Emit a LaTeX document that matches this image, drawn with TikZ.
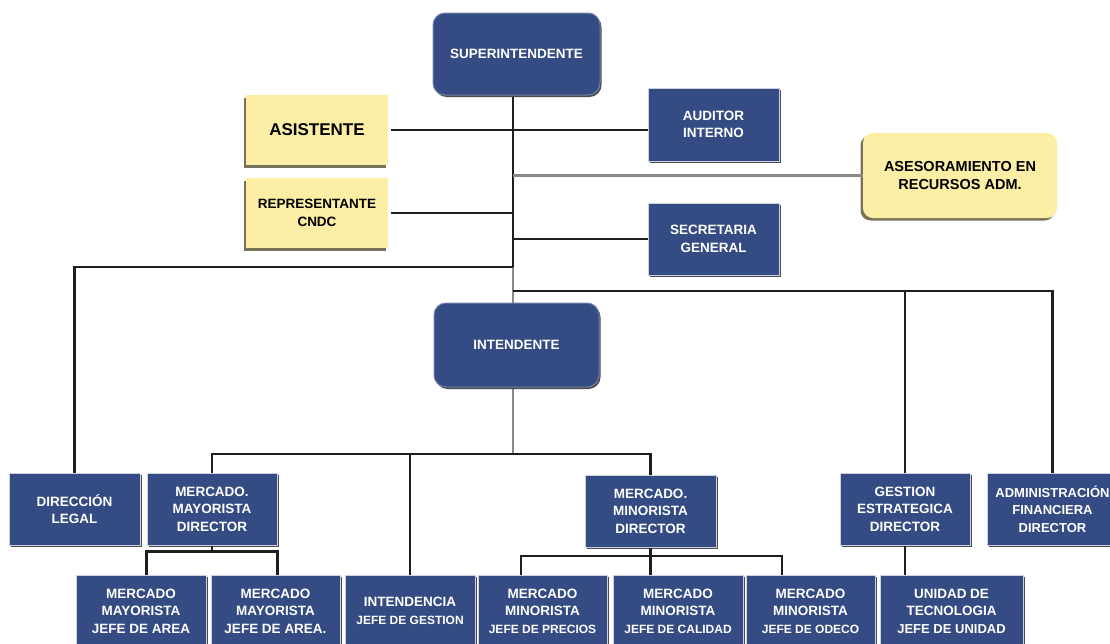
\documentclass[tikz,border=0pt]{standalone}
\usepackage{fontspec}
\setmainfont{Liberation Sans}
\usetikzlibrary{shadows}
\definecolor{boxblue}{HTML}{344B83}
\definecolor{boxedge}{HTML}{C9D1E2}
\definecolor{yel}{HTML}{FCEFA5}
\definecolor{yeledge}{HTML}{77725A}
\definecolor{linek}{HTML}{1E1E1E}
\definecolor{lineg}{HTML}{8A8A8A}
\newcommand\fz[1]{\fontsize{#1}{17.5}\selectfont}
\tikzset{
  sz/.style 2 args={minimum width=#1pt, minimum height=#2pt},
  bbox/.style={fill=boxblue, draw=boxedge, line width=1pt, text=white,
    font=\bfseries\fz{13.5}, align=center, inner sep=0pt,
    drop shadow={shadow xshift=1.5pt, shadow yshift=-2pt, fill=black!70, opacity=1}},
  rbox/.style={bbox, rounded corners=12pt, draw=boxblue!70!white},
  ybox/.style={fill=yel, draw=none, text=black, font=\bfseries\fz{14}, align=center,
    inner sep=0pt,
    drop shadow={shadow xshift=-2.5pt, shadow yshift=-2.5pt, fill=yeledge, opacity=1}},
  conn/.style={draw=linek, line width=2.2pt},
  conng/.style={draw=lineg, line width=2.2pt},
}
\begin{document}
\begin{tikzpicture}[x=1pt, y=-1pt]
\clip (0,0) rectangle (1110,643);
\fill[white] (0,0) rectangle (1110,643);

% spine coordinates
\coordinate (sp267) at (513,267);
\coordinate (sp291) at (513,291);
\coordinate (sp454) at (513,454);
\coordinate (m1) at (521,575);
\coordinate (m3) at (782,575);

% connectors (drawn first, under boxes)
\draw[conn] (513,95) -- (sp267);
\draw[conng] (sp267) -- (513,303);
\draw[conng] (513,387) -- (sp454);

% nodes
\node[rbox, sz={167}{82}] (sup) at (516.5,54) {SUPERINTENDENTE};
\node[ybox, sz={142}{70}, font=\bfseries\fz{17}] (asis) at (317,130) {ASISTENTE};
\node[ybox, sz={142}{70}, font=\bfseries\fz{13.5}] (rep) at (317,213) {REPRESENTANTE\\CNDC};
\node[bbox, sz={131}{73}] (aud) at (713.5,124.5) {AUDITOR\\INTERNO};
\node[ybox, sz={194}{85}, rounded corners=10pt, font=\bfseries\fz{14.5}] (ases) at (960,175.5) {ASESORAMIENTO EN\\RECURSOS ADM.};
\node[bbox, sz={131}{72}] (sec) at (713.5,239) {SECRETARIA\\GENERAL};
\node[rbox, sz={165}{84}] (int) at (516.5,345) {INTENDENTE};

\node[bbox, sz={131}{72}] (dl) at (74.5,509) {DIRECCIÓN\\LEGAL};
\node[bbox, sz={130}{72}] (mmd) at (212,509) {MERCADO.\\MAYORISTA\\DIRECTOR};
\node[bbox, sz={131}{72}] (mnd) at (650.5,511) {MERCADO.\\MINORISTA\\DIRECTOR};
\node[bbox, sz={130}{72}] (ged) at (905,509) {GESTION\\ESTRATEGICA\\DIRECTOR};
\node[bbox, sz={131}{72}, font=\bfseries\fz{13}] (afd) at (1052.5,509) {ADMINISTRACIÓN\\FINANCIERA\\DIRECTOR};

\node[bbox, sz={130}{72}] (mj1) at (141,611) {MERCADO\\MAYORISTA\\JEFE DE AREA};
\node[bbox, sz={129}{72}] (mj2) at (275.5,611) {MERCADO\\MAYORISTA\\JEFE DE AREA.};
\node[bbox, sz={130}{72}] (intj) at (410,611) {INTENDENCIA\\{\fz{12}JEFE DE GESTION}};
\node[bbox, sz={129}{72}] (mnp) at (542.5,611) {MERCADO\\MINORISTA\\{\fz{12}JEFE DE PRECIOS}};
\node[bbox, sz={130}{72}] (mnc) at (678,611) {MERCADO\\MINORISTA\\{\fz{12}JEFE DE CALIDAD}};
\node[bbox, sz={129}{72}] (mno) at (810.5,611) {MERCADO\\MINORISTA\\{\fz{12}JEFE DE ODECO}};
\node[bbox, sz={143}{72}] (ut) at (951.5,611) {UNIDAD DE\\TECNOLOGIA\\{\fz{13}JEFE DE UNIDAD}};

% side connectors
\draw[conn] ([xshift=3pt]asis.east) -- (asis.east -| aud.west);
\draw[conn] ([xshift=3pt]rep.east) -- (rep.east -| sp267);
\draw[conng] (ases.west -| sp267) -- (ases.west);
\draw[conn] (sec.west -| sp267) -- (sec.west);
\draw[conn] (sp267) -| (dl.north);
\draw[conn] (sp291) -| (afd.north);
\draw[conn] (sp291 -| ged.north) -- (ged.north);

% intendente bar
\draw[conn] (mmd.north) |- (sp454) -| (mnd.north);
\draw[conn] (sp454 -| intj.north) -- (intj.north);

% mayorista children
\draw[conn] (mmd.south) -- ++(0,7);
\draw[conn] (mmd.south west |- mj1.north) -- ++(0,-23) -| (mmd.south east |- mj2.north);

% minorista children
\draw[conn] (m1) -- ++(0,-19) -| (m3);
\draw[conn] (mnd.south) -- (mnd.south |- mnc.north);

% gestion
\draw[conn] (ged.south) -- (ged.south |- ut.north);
\end{tikzpicture}
\end{document}
